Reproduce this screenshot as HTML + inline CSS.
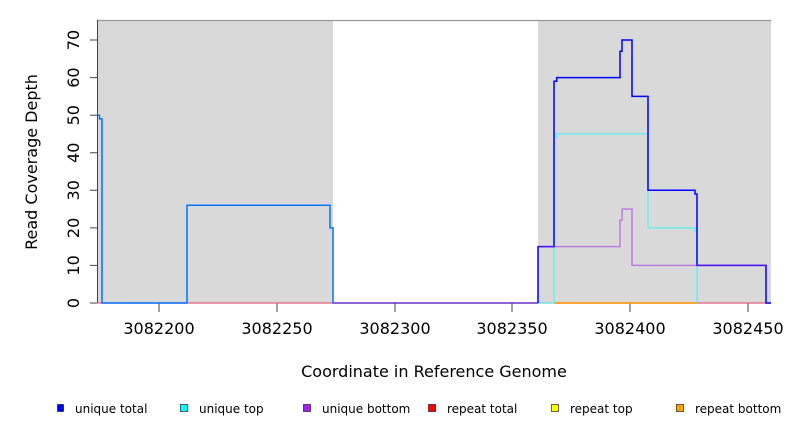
<!DOCTYPE html>
<html><head><meta charset="utf-8"><style>body{margin:0;background:#fff}svg{display:block;font-family:"DejaVu Sans","Liberation Sans",sans-serif}</style></head><body>
<svg width="792" height="432" viewBox="0 0 792 432" xmlns="http://www.w3.org/2000/svg">
<rect x="97" y="20" width="236" height="283" fill="#d9d9d9"/>
<rect x="538" y="20" width="233" height="283" fill="#d9d9d9"/>
<path d="M97 20.5H771" stroke="#999" stroke-width="1.2"/>
<path d="M97.5 20V303" stroke="#444" stroke-width="1"/>
<g stroke="#444" stroke-width="1">
<path d="M90 303H97M90 265.4H97M90 227.9H97M90 190.3H97M90 152.7H97M90 115.2H97M90 77.6H97M90 40H97"/>
<path d="M159 303V312M277 303V312M395 303V312M512 303V312M630 303V312M748 303V312"/>
</g>
<g font-size="16" fill="#000" text-anchor="middle">
<text transform="translate(74 303) rotate(-90)" dy="5">0</text>
<text transform="translate(74 265.4) rotate(-90)" dy="5">10</text>
<text transform="translate(74 227.9) rotate(-90)" dy="5">20</text>
<text transform="translate(74 190.3) rotate(-90)" dy="5">30</text>
<text transform="translate(74 152.7) rotate(-90)" dy="5">40</text>
<text transform="translate(74 115.2) rotate(-90)" dy="5">50</text>
<text transform="translate(74 77.6) rotate(-90)" dy="5">60</text>
<text transform="translate(74 40) rotate(-90)" dy="5">70</text>
<text x="159" y="334">3082200</text><text x="277" y="334">3082250</text><text x="395" y="334">3082300</text><text x="512" y="334">3082350</text><text x="630" y="334">3082400</text><text x="748" y="334">3082450</text>
<text x="434" y="377">Coordinate in Reference Genome</text>
<text transform="translate(37 162) rotate(-90)">Read Coverage Depth</text>
</g>
<g fill="none" stroke-width="1.3">
<path d="M97 303H771" stroke="#e0607a"/>
<path d="M554 303H697" stroke="#ff9900" stroke-width="1.5"/>
<path d="M97 115.2H99.5V118.9H102V303H187V205.3H330V227.9H333V303" stroke="#00ffff"/>
<path d="M538 303H554V137.7H556.5V133.9H648V227.9H695V231.6H697V303" stroke="#5ff0f0"/>
<path d="M97 115.2H99.5V118.9H102V303H187V205.3H330V227.9H333V303H538" stroke="#0000ff" stroke-opacity="0.55" stroke-width="1.5"/>
<path d="M538 303V246.6H554V81.3H556.7V77.6H620V51.3H622V40H632V96.4H648V190.3H695V194H697V265.4H766V303H771" stroke="#0000ff" stroke-width="1.5"/>
<path d="M538 246.6H620V220.3H622V209.1H632V265.4H766" stroke="#a020f0" stroke-opacity="0.5" stroke-width="1.5"/>
</g>
<g font-size="12" fill="#000">
<rect x="57.5" y="404.5" width="6" height="7" fill="#0000ff" stroke="#000" stroke-width="0.6"/><text x="75" y="413">unique total</text>
<rect x="180.5" y="404.5" width="7" height="7" fill="#00ffff" stroke="#000" stroke-width="0.6"/><text x="199" y="413">unique top</text>
<rect x="303.5" y="404.5" width="7" height="7" fill="#a020f0" stroke="#000" stroke-width="0.6"/><text x="322" y="413">unique bottom</text>
<rect x="428.5" y="404.5" width="7" height="7" fill="#ff0000" stroke="#000" stroke-width="0.6"/><text x="447" y="413">repeat total</text>
<rect x="551.5" y="404.5" width="7" height="7" fill="#ffff00" stroke="#000" stroke-width="0.6"/><text x="570" y="413">repeat top</text>
<rect x="676.5" y="404.5" width="7" height="7" fill="#ffa500" stroke="#000" stroke-width="0.6"/><text x="695" y="413">repeat bottom</text>
</g>
</svg>
</body></html>
